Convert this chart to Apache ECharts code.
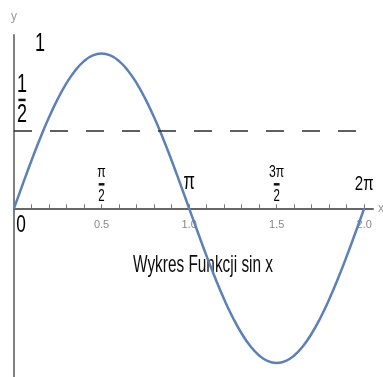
<!DOCTYPE html>
<html>
<head>
<meta charset="utf-8">
<script src="https://cdn.jsdelivr.net/npm/echarts@6/dist/echarts.min.js"></script>
<style>
  html, body { margin: 0; padding: 0; background: #fff; }
  #chart { width: 383px; height: 377px; }
</style>
</head>
<body>
<div id="chart"></div>
<script>
// Sampled points of the curve y = sin(pi x) on [0, 2]
const xValues = [0, 0.05, 0.1, 0.15, 0.2, 0.25, 0.3, 0.35, 0.4, 0.45, 0.5,
  0.55, 0.6, 0.65, 0.7, 0.75, 0.8, 0.85, 0.9, 0.95, 1,
  1.05, 1.1, 1.15, 1.2, 1.25, 1.3, 1.35, 1.4, 1.45, 1.5,
  1.55, 1.6, 1.65, 1.7, 1.75, 1.8, 1.85, 1.9, 1.95, 2];
const yValues = [0, 0.156, 0.309, 0.454, 0.588, 0.707, 0.809, 0.891, 0.951, 0.988, 1,
  0.988, 0.951, 0.891, 0.809, 0.707, 0.588, 0.454, 0.309, 0.156, 0,
  -0.156, -0.309, -0.454, -0.588, -0.707, -0.809, -0.891, -0.951, -0.988, -1,
  -0.988, -0.951, -0.891, -0.809, -0.707, -0.588, -0.454, -0.309, -0.156, 0];

// Horizontal dashed guide
const referenceLevel = 0.5;

// Numeric tick labels on the x axis
const xTickLabels = ['0.5', '1.0', '1.5', '2.0'];

// Symbolic annotations anchored at data coordinates
const annoX = [0, 0, 0, 0.5, 1, 1.5, 2];
const annoY = [0, 0.5, 1, 0, 0, 0, 0];
const annoText = ['0', '1/2', '1', 'π/2', 'π', '3π/2', '2π'];

const titleText = 'Wykres Funkcji sin x';

const FONT = "'Liberation Sans', Arial, sans-serif";
const NARROW = 0.72;
const INK = '#000';

function fracRich(numSize, denSize, lh, barW, barLh) {
  return {
    n: { fontSize: numSize, lineHeight: lh, fontFamily: FONT, color: INK, align: 'center' },
    bar: { width: barW, height: 2.5, lineHeight: barLh, backgroundColor: '#111', align: 'center' },
    d: { fontSize: denSize, lineHeight: lh, fontFamily: FONT, color: INK, align: 'center' }
  };
}

const annoStyle = {
  '0':    { dx: 7,  dy: 17,  size: 24 },
  '1':    { dx: 26, dy: -9,  size: 25 },
  '1/2':  { dx: 8,  dy: -31, size: 25, rich: fracRich(25, 25, 24, 10, 6) },
  'π/2':  { dx: 0,  dy: -24, size: 16, rich: fracRich(17, 16, 17, 8, 8) },
  'π':    { dx: 0,  dy: -26, size: 23 },
  '3π/2': { dx: 0,  dy: -24, size: 16, rich: fracRich(17, 16, 17, 8, 8) },
  '2π':   { dx: 0,  dy: -24, size: 21 }
};

function labelText(t) {
  if (t.indexOf('/') < 0) return t;
  const parts = t.split('/');
  return '{n|' + parts[0] + '}\n{bar|\u00a0}\n{d|' + parts[1] + '}';
}

// Fit the title into a condensed width
const measureCtx = document.createElement('canvas').getContext('2d');
measureCtx.font = '24px ' + FONT;
const titleScale = 140 / measureCtx.measureText(titleText).width;

const GRID = { left: 14, right: 10, top: 35, bottom: 0 };

const chart = echarts.init(document.getElementById('chart'), null, { renderer: 'canvas' });

chart.setOption({
  animation: false,
  backgroundColor: '#fff',
  grid: Object.assign({ containLabel: false, outerBoundsMode: 'none' }, GRID),
  xAxis: {
    type: 'value',
    min: 0,
    max: 2.05,
    interval: 0.1,
    position: 'bottom',
    offset: 0,
    name: 'x',
    nameLocation: 'end',
    nameGap: 5,
    nameTextStyle: { color: '#999', fontSize: 12, fontFamily: FONT },
    axisLine: { onZero: false, lineStyle: { color: '#666', width: 2 } },
    axisTick: { show: true, inside: true, length: 4, lineStyle: { color: '#777', width: 1 } },
    axisLabel: {
      margin: 11,
      color: '#888',
      fontSize: 11,
      fontFamily: "'Liberation Sans Narrow', " + FONT,
      formatter: function (v) {
        const s = v.toFixed(1);
        return xTickLabels.indexOf(s) >= 0 ? s : '';
      }
    },
    splitLine: { show: false }
  },
  yAxis: {
    type: 'value',
    min: -1.09,
    max: 1.12,
    name: 'y',
    nameLocation: 'end',
    nameGap: 12,
    nameTextStyle: { color: '#999', fontSize: 12, fontFamily: FONT },
    axisLine: { show: true, onZero: false, lineStyle: { color: '#808080', width: 2 } },
    axisTick: { show: false },
    axisLabel: { show: false },
    splitLine: { show: false }
  },
  graphic: [{
    type: 'text',
    x: 203,
    y: 265,
    scaleX: titleScale,
    style: {
      text: titleText,
      font: '24px ' + FONT,
      fill: '#0d0d0d',
      align: 'center',
      verticalAlign: 'middle',
      textAlign: 'center',
      textVerticalAlign: 'middle'
    }
  }],
  series: [
    {
      type: 'line',
      data: xValues.map((x, i) => [x, yValues[i]]),
      showSymbol: false,
      smooth: true,
      lineStyle: { color: '#5d80b6', width: 2.5 },
      z: 3,
      markLine: {
        silent: true,
        symbol: 'none',
        label: { show: false },
        lineStyle: { type: [18, 18], color: '#2b2b2b', width: 1.5 },
        data: [{ yAxis: referenceLevel }]
      }
    },
    {
      type: 'custom',
      silent: true,
      z: 5,
      data: annoX.map((x, i) => [x, annoY[i]]),
      renderItem: function (params, api) {
        const t = annoText[params.dataIndex];
        const st = annoStyle[t];
        const p = api.coord([api.value(0), api.value(1)]);
        const style = {
          text: labelText(t),
          fontSize: st.size,
          fontFamily: FONT,
          fill: INK,
          align: 'center',
          verticalAlign: 'middle'
        };
        if (st.rich) style.rich = st.rich;
        return {
          type: 'text',
          x: p[0] + st.dx,
          y: p[1] + st.dy,
          scaleX: NARROW,
          style: style
        };
      }
    }
  ]
});

// Lift the x axis (line, ticks, labels) up to y = 0 using the axis scale
const zeroY = chart.convertToPixel({ yAxisIndex: 0 }, 0);
const bottomY = chart.getHeight() - GRID.bottom;
chart.setOption({ xAxis: { offset: -(bottomY - zeroY) } });
</script>
</body>
</html>
